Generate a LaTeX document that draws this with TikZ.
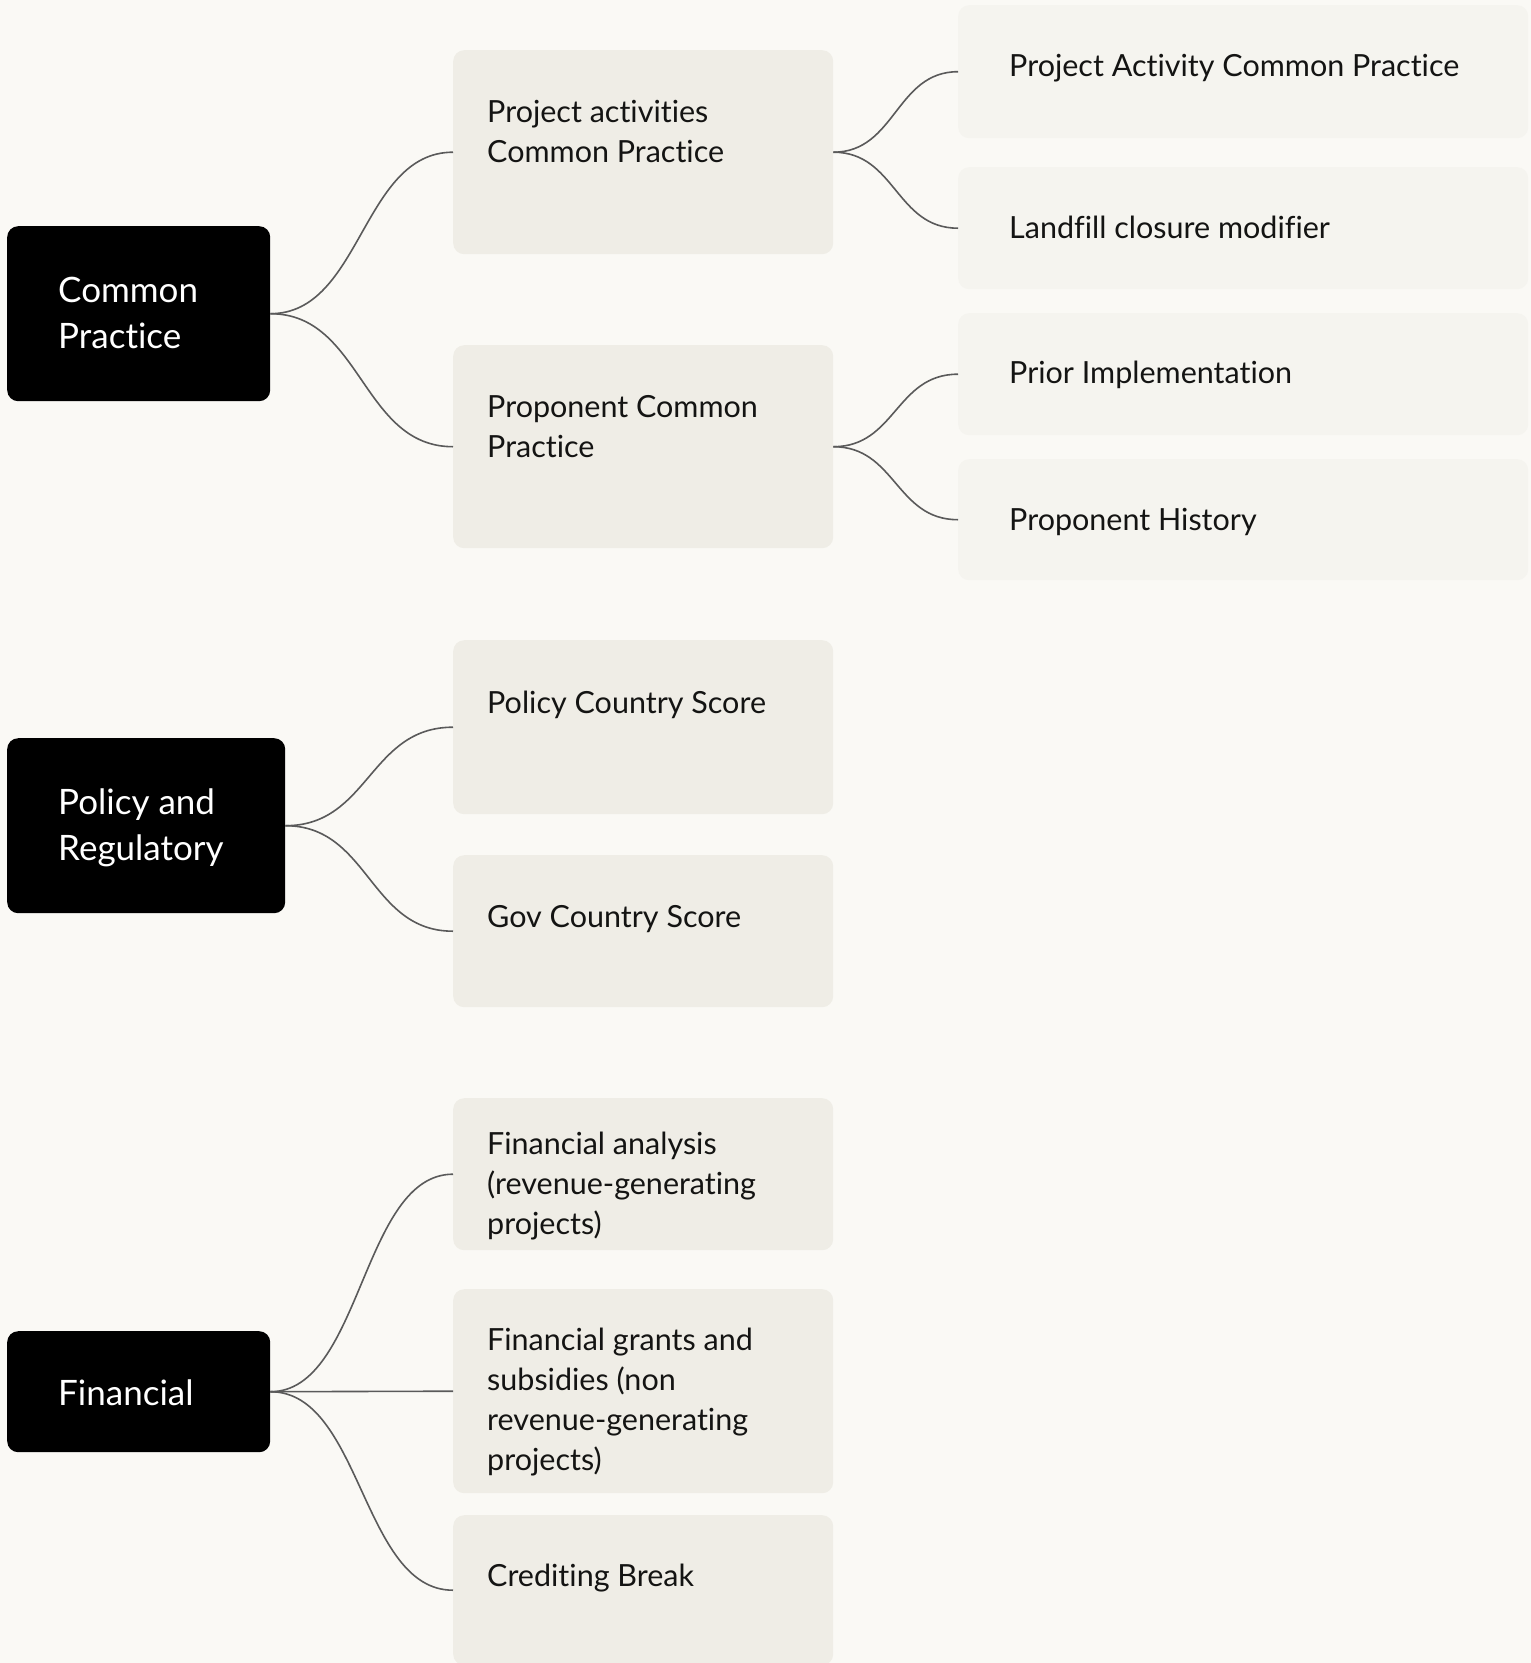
\documentclass[tikz,border=0pt]{standalone}
\usepackage{fontspec}
\setmainfont{Lato}[Ligatures={NoCommon}]
\usetikzlibrary{calc}

\definecolor{pagebg}{HTML}{FAF9F5}
\definecolor{midfill}{HTML}{EFEDE6}
\definecolor{leaffill}{HTML}{F5F4EF}
\definecolor{linkgray}{HTML}{5A5A5A}
\definecolor{inktext}{HTML}{141413}

% multi-line label whose baseline is that of its first line
\newcommand{\boxlines}[1]{\parbox[t]{420pt}{\raggedright #1}}

\tikzset{
  box/.style={anchor=north west, inner sep=0pt, rounded corners=11pt, draw=none},
  rootbox/.style={box, fill=black},
  midbox/.style={box, fill=midfill, minimum width=380pt},
  leafbox/.style={box, fill=leaffill, minimum width=570pt},
  roottext/.style={anchor=base west, inner sep=0pt, text=white,
    font=\fontsize{35}{46}\selectfont},
  bodytext/.style={anchor=base west, inner sep=0pt, text=inktext,
    font=\fontsize{30.5}{40}\selectfont},
  link/.style={draw=linkgray, line width=1.6pt,
    to path={let \p1=(\tikztostart), \p2=(\tikztotarget) in
      (\p1) .. controls ({(\x1+\x2)/2},\y1) and ({(\x1+\x2)/2},\y2) .. (\p2)}},
}

\begin{document}
\begin{tikzpicture}[x=1pt, y=-1pt]
  \fill[pagebg] (0,0) rectangle (1531,1663);
  \useasboundingbox (0,0) rectangle (1531,1663);

  % ---- root categories ----
  \node[rootbox, minimum width=263pt, minimum height=175pt] (cp) at (7,226) {};
  \node[roottext] (cpt) at (58,302) {\boxlines{Common\\Practice}};

  \node[rootbox, minimum width=278pt, minimum height=175pt] (pr) at (7,738) {};
  \node[roottext] (prt) at (58,814) {\boxlines{Policy and\\Regulatory}};

  \node[rootbox, minimum width=263pt, minimum height=121pt] (fin) at (7,1331) {};
  \node[roottext] (fint) at (58,1405) {Financial};

  % ---- second level ----
  \node[midbox, minimum height=204pt] (pa) at (453,50) {};
  \node[bodytext] (pat) at (487,122) {\boxlines{Project activities\\Common Practice}};

  \node[midbox, minimum height=203pt] (pcp) at (453,345) {};
  \node[bodytext] (pcpt) at (487,417) {\boxlines{Proponent Common\\Practice}};

  \node[midbox, minimum height=174pt] (pcs) at (453,640) {};
  \node[bodytext] (pcst) at (487,713) {Policy Country Score};

  \node[midbox, minimum height=152pt] (gcs) at (453,855) {};
  \node[bodytext] (gcst) at (487,927) {Gov Country Score};

  \node[midbox, minimum height=152pt] (fa) at (453,1098) {};
  \node[bodytext] (fat) at (487,1154) {\boxlines{Financial analysis\\(revenue-generating\\projects)}};

  \node[midbox, minimum height=204pt] (fg) at (453,1289) {};
  \node[bodytext] (fgt) at (487,1350) {\boxlines{Financial grants and\\subsidies (non\\revenue-generating\\projects)}};

  \node[midbox, minimum height=150pt] (cb) at (453,1515) {};
  \node[bodytext] (cbt) at (487,1586) {Crediting Break};

  % ---- third level ----
  \node[leafbox, minimum height=133pt] (pacp) at (958,5) {};
  \node[bodytext] (pacpt) at (1009,76) {Project Activity Common Practice};

  \node[leafbox, minimum height=122pt] (lcm) at (958,167) {};
  \node[bodytext] (lcmt) at (1009,238) {Landfill closure modifier};

  \node[leafbox, minimum height=122pt] (pi) at (958,313) {};
  \node[bodytext] (pit) at (1009,383) {Prior Implementation};

  \node[leafbox, minimum height=121pt] (ph) at (958,459) {};
  \node[bodytext] (pht) at (1009,530) {Proponent History};

  % ---- connectors ----
  \draw[link] (cp.east) to (pa.west);
  \draw[link] (cp.east) to (pcp.west);
  \draw[link] (pa.east) to (pacp.west);
  \draw[link] (pa.east) to (lcm.west);
  \draw[link] (pcp.east) to (pi.west);
  \draw[link] (pcp.east) to (ph.west);
  \draw[link] (pr.east) to (pcs.west);
  \draw[link] (pr.east) to (gcs.west);
  \draw[link] (fin.east) to (fa.west);
  \draw[link] (fin.east) to (fg.west);
  \draw[link] (fin.east) to (cb.west);
\end{tikzpicture}
\end{document}
